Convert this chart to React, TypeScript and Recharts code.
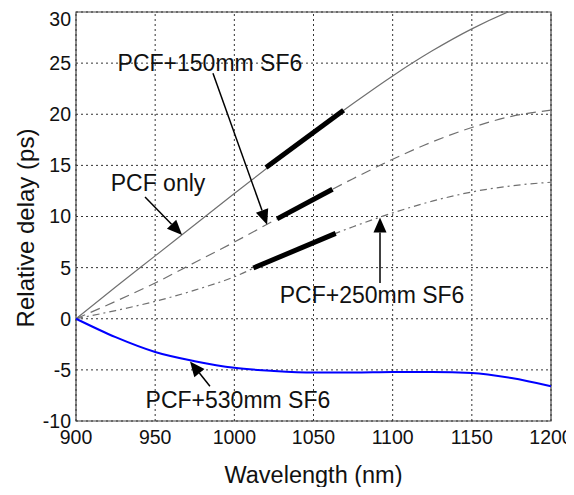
import { LineChart, Line, XAxis, YAxis, ReferenceLine, ReferenceDot, ReferenceArea } from "recharts"

// wavelength (nm) and relative delay (ps)
const wavelengths = [900, 925, 950, 975, 1000, 1025, 1050, 1075, 1100, 1125, 1150, 1175, 1200]
const pcfOnly = [0, 3.1, 6.15, 9.2, 12.25, 15.25, 18.2, 21.05, 23.75, 26.2, 28.35, 30.15, 31.65]
const pcf150 = [0, 1.7, 3.5, 5.5, 7.5, 9.6, 11.7, 13.7, 15.6, 17.3, 18.7, 19.8, 20.4]
const pcf250 = [0, 0.8, 1.7, 2.8, 4.1, 5.9, 7.5, 9.0, 10.35, 11.5, 12.4, 13.0, 13.35]
const pcf530 = [0, -1.8, -3.25, -4.15, -4.8, -5.1, -5.25, -5.25, -5.2, -5.2, -5.3, -5.8, -6.6]

const xTicks = [900, 950, 1000, 1050, 1100, 1150, 1200]
const yTicks = [-10, -5, 0, 5, 10, 15, 20, 25, 30]

// thick slope segments drawn over the curves
const slopeSegments = [
  [{ x: 1020, y: 14.8 }, { x: 1069, y: 20.4 }],
  [{ x: 1027, y: 9.77 }, { x: 1062, y: 12.66 }],
  [{ x: 1012, y: 4.96 }, { x: 1064, y: 8.35 }],
]

// annotation labels and arrows (data coordinates)
const notes = [
  { text: "PCF+150mm SF6", at: { x: 984.6, y: 25.0 }, from: { x: 986.5, y: 24.0 }, to: { x: 1020.7, y: 9.2 } },
  { text: "PCF only", at: { x: 951.8, y: 13.3 }, from: { x: 943.6, y: 11.9 }, to: { x: 967, y: 8.2 } },
  { text: "PCF+250mm SF6", at: { x: 1087, y: 2.35 }, from: { x: 1092, y: 3.5 }, to: { x: 1092, y: 9.9 } },
  { text: "PCF+530mm SF6", at: { x: 1002.3, y: -7.9 }, from: { x: 984.6, y: -6.6 }, to: { x: 972, y: -4.17 } },
]

const data = wavelengths.map((wl, i) => ({
  wl,
  pcfOnly: pcfOnly[i],
  pcf150: pcf150[i],
  pcf250: pcf250[i],
  pcf530: pcf530[i],
}))

const font = "'Liberation Sans', Arial, Helvetica, sans-serif"

function Arrow(props: any) {
  const { x1, y1, x2, y2 } = props
  const ang = Math.atan2(y2 - y1, x2 - x1)
  const len = 15
  const half = 6.5
  const bx = x2 - len * Math.cos(ang)
  const by = y2 - len * Math.sin(ang)
  const px = -Math.sin(ang) * half
  const py = Math.cos(ang) * half
  return (
    <g>
      <line x1={x1} y1={y1} x2={bx} y2={by} stroke="#000" strokeWidth={1.5} />
      <polygon points={`${x2},${y2} ${bx + px},${by + py} ${bx - px},${by - py}`} fill="#000" />
    </g>
  )
}

export default function App() {
  return (
    <LineChart
      width={566}
      height={479}
      data={data}
      margin={{ top: 4, right: 23, left: 0, bottom: 0 }}
      style={{ fontFamily: font }}
    >
      <XAxis
        type="number"
        dataKey="wl"
        domain={[900, 1200]}
        ticks={xTicks}
        height={66}
        axisLine={false}
        tickLine={false}
        tickSize={0}
        tickMargin={9}
        tick={{ fontSize: 19.5, fill: "#111", fontFamily: font }}
      />
      <YAxis
        type="number"
        domain={[-10, 30]}
        ticks={yTicks}
        width={68}
        allowDataOverflow
        axisLine={false}
        tickLine={false}
        tickSize={0}
        tickMargin={5}
        tick={{ fontSize: 19.5, fill: "#111", fontFamily: font }}
      />
      {xTicks.map((x) => (
        <ReferenceLine key={"gx" + x} x={x} stroke="#333" strokeDasharray="2 3" strokeWidth={1} />
      ))}
      {yTicks.map((y) => (
        <ReferenceLine key={"gy" + y} y={y} stroke="#333" strokeDasharray="2 3" strokeWidth={1} />
      ))}
      <ReferenceArea x1={900} x2={1200} y1={-10} y2={30} fill="none" stroke="#444" strokeWidth={1.2} />
      <Line type="monotone" dataKey="pcfOnly" stroke="#707070" strokeWidth={1.2} dot={false} isAnimationActive={false} />
      <Line type="monotone" dataKey="pcf150" stroke="#707070" strokeWidth={1.2} strokeDasharray="10 6" dot={false} isAnimationActive={false} />
      <Line type="monotone" dataKey="pcf250" stroke="#707070" strokeWidth={1.2} strokeDasharray="7 4 2 4" dot={false} isAnimationActive={false} />
      <Line type="monotone" dataKey="pcf530" stroke="#0000ff" strokeWidth={2} dot={false} isAnimationActive={false} />
      {slopeSegments.map((seg, i) => (
        <ReferenceLine key={"s" + i} segment={seg} stroke="#000" strokeWidth={5} />
      ))}
      {notes.map((n, i) => (
        <ReferenceLine key={"a" + i} segment={[n.from, n.to]} shape={(p: any) => <Arrow {...p} />} />
      ))}
      {notes.map((n, i) => (
        <ReferenceDot
          key={"t" + i}
          x={n.at.x}
          y={n.at.y}
          r={0}
          fill="none"
          stroke="none"
          label={{ value: n.text, position: "center", fontSize: 23, fill: "#111", fontFamily: font }}
        />
      ))}
      <text x={305.5} y={467} textAnchor="middle" dominantBaseline="central" fontSize={23.5} fill="#111" fontFamily={font}>
        Wavelength (nm)
      </text>
      <text
        x={17}
        y={220}
        textAnchor="middle"
        dominantBaseline="central"
        fontSize={24}
        fill="#111"
        fontFamily={font}
        transform="rotate(-90, 17, 220)"
      >
        Relative delay (ps)
      </text>
    </LineChart>
  )
}
